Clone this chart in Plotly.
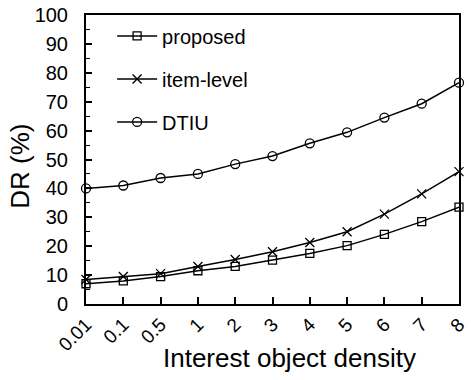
import plotly.graph_objects as go

# Interest object density categories
densities = ["0.01", "0.1", "0.5", "1", "2", "3", "4", "5", "6", "7", "8"]

# DR (%) for each method
proposed = [7.0, 8.0, 9.5, 11.5, 13.0, 15.2, 17.5, 20.2, 24.1, 28.5, 33.5]
item_level = [8.5, 9.5, 10.5, 13.0, 15.4, 18.1, 21.3, 25.0, 31.1, 38.1, 45.8]
dtiu = [40.0, 41.0, 43.6, 45.0, 48.4, 51.2, 55.6, 59.4, 64.5, 69.3, 76.6]

series = [
    ("proposed", proposed, "square-open", 8),
    ("item-level", item_level, "x-thin-open", 9),
    ("DTIU", dtiu, "circle-open", 9),
]

FONT = "Liberation Sans, Arial, sans-serif"

fig = go.Figure()
for i, (name, vals, sym, sz) in enumerate(series):
    fig.add_trace(go.Scatter(
        x=densities, y=vals, name=name, mode="lines+markers",
        line=dict(color="black", width=1.5),
        marker=dict(symbol=sym, size=sz, color="black",
                    line=dict(color="black", width=1.3)),
        cliponaxis=False, legendgroup=f"g{i}",
    ))

fig.update_layout(
    width=471, height=380,
    margin=dict(l=86, r=2, t=15, b=76),
    paper_bgcolor="white", plot_bgcolor="white",
    font=dict(family=FONT, size=20, color="black"),
    showlegend=True,
    legend=dict(x=0.07, y=0.995, xanchor="left", yanchor="top",
                bgcolor="rgba(0,0,0,0)", font=dict(size=20),
                tracegroupgap=14, itemwidth=40),
    xaxis=dict(
        type="category", range=[0, 10], tickangle=-45,
        showline=True, linecolor="black", linewidth=2, mirror=True,
        ticks="inside", ticklen=7, tickwidth=1.5, tickcolor="black",
        showgrid=False, zeroline=False,
        tickfont=dict(size=19),
    ),
    yaxis=dict(
        range=[0, 100], dtick=10,
        showline=True, linecolor="black", linewidth=2, mirror=True,
        ticks="inside", ticklen=6, tickwidth=1.5, tickcolor="black",
        minor=dict(dtick=5, ticks="inside", ticklen=4, tickcolor="black", tickwidth=1),
        showgrid=False, zeroline=False,
        tickfont=dict(size=20), ticklabelstandoff=12,
    ),
    annotations=[
        dict(text="Interest object density", xref="paper", yref="paper",
             x=0.546, y=0, yshift=-54, xanchor="center", yanchor="middle",
             showarrow=False, font=dict(size=26)),
        dict(text="DR (%)", xref="paper", yref="paper", textangle=-90,
             x=0, xshift=-66, y=0.475, xanchor="center", yanchor="middle",
             showarrow=False, font=dict(size=26)),
    ],
)

fig.write_html("out.html")
